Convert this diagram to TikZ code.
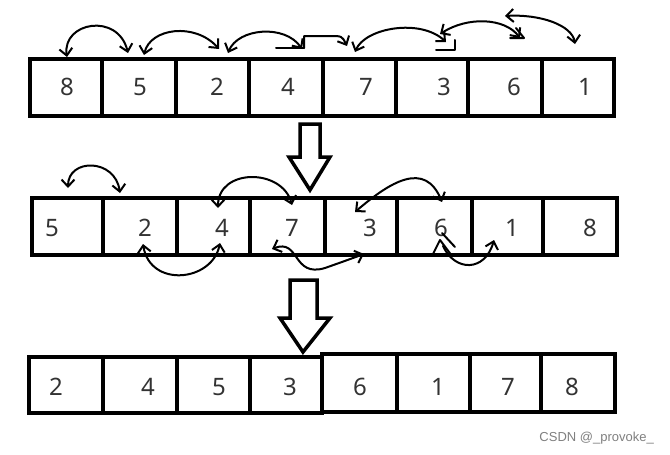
\documentclass[tikz,border=0pt]{standalone}
\usepackage{fontspec}
\setmainfont{Noto Sans}
\newfontfamily\wmfont{Liberation Sans}
\usetikzlibrary{arrows.meta}
\begin{document}
\begin{tikzpicture}[x=1pt,y=-1pt,
  cellbox/.style={draw, line width=4pt, inner sep=0pt},
  num/.style={font=\fontsize{24}{28}\selectfont, text=black!80, inner sep=0pt},
  bigarrow/.style={draw, line width=3.5pt, line join=miter, fill=white},
  hand/.style={line width=2pt, line cap=round, line join=round},
  swap/.style={hand, {Straight Barb[length=7pt,width=13pt]}-{Straight Barb[length=7pt,width=13pt]}},
  oneway/.style={hand, -{Straight Barb[length=7pt,width=13pt]}},
  wm/.style={font=\wmfont\fontsize{13}{15}\selectfont, text=black!50, inner sep=0pt}]
\useasboundingbox (0,0) rectangle (670,455);
\fill[white] (0,0) rectangle (670,455);

% row 1
\foreach \a/\b/\i in {30/102/1,102/176/2,176/249/3,249/323/4,323/396/5,396/468/6,468/542/7,542/614/8}
  \node[cellbox, minimum width={(\b-\a)*1pt}, minimum height=57pt] (ra\i) at ({(\a+\b)/2},87.5) {};
% row 2
\foreach \a/\b/\i in {32/103/1,103/177/2,177/250/3,250/325/4,325/397/5,397/472/6,472/543/7,543/617/8}
  \node[cellbox, minimum width={(\b-\a)*1pt}, minimum height=57pt] (rb\i) at ({(\a+\b)/2},226) {};
% row 3
\foreach \a/\b/\i in {29/103/1,103/177/2,177/250/3,250/322/4}
  \node[cellbox, minimum width={(\b-\a)*1pt}, minimum height=56pt] (rc\i) at ({(\a+\b)/2},384.5) {};
\foreach \a/\b/\i in {322/397/5,397/470/6,470/541/7,541/615/8}
  \node[cellbox, minimum width={(\b-\a)*1pt}, minimum height=58pt] (rc\i) at ({(\a+\b)/2},383) {};

% numbers
\foreach \x/\t/\i in {67/8/1,140/5/2,217/2/3,288/4/4,366/7/5,444/3/6,514/6/7,585/1/8}
  \node[num] (na\i) at (\x,87) {\t};
\foreach \x/\t/\i in {52/5/1,145/2/2,222/4/3,292/7/4,370/3/5,441/6/6,512/1/7,590/8/8}
  \node[num] (nb\i) at (\x,228) {\t};
\foreach \x/\t/\i in {56/2/1,148/4/2,219/5/3,290/3/4,360/6/5,438/1/6,508/7/7,572/8/8}
  \node[num] (nc\i) at (\x,387) {\t};

% block arrows
\path[bigarrow] (300,124) -- (320,124) -- (320,157) -- (330,157) -- (310,190) -- (289,157) -- (300,157) -- cycle;
\path[bigarrow] (290,280) -- (317,280) -- (317,318) -- (330,318) -- (303,352) -- (280,318) -- (290,318) -- cycle;

% hand-drawn swaps, row 1
\coordinate (a1s) at (67,57);  \coordinate (a1e) at (128,53);
\draw[swap] (a1s) .. controls (62,22) and (118,12) .. (a1e);
\coordinate (a2s) at (144,55); \coordinate (a2e) at (219,49);
\draw[swap] (a2s) .. controls (150,28) and (195,22) .. (a2e);
\coordinate (a3s) at (228,53); \coordinate (a3e) at (302,49);
\draw[swap] (a3s) .. controls (238,28) and (285,24) .. (a3e);
\coordinate (a4s) at (276,48); \coordinate (a4e) at (347,46);
\draw[hand] (a4s) -- (304,48);
\draw[oneway] (304,48) -- (304,36) -- (330,36) .. controls (342,36) .. (a4e);
\coordinate (a5s) at (355,52); \coordinate (a5e) at (446,42);
\draw[swap] (a5s) .. controls (365,28) and (420,18) .. (a5e);
\draw[hand] (436,50) -- (455,50) -- (455,40);
\coordinate (a6s) at (440,34); \coordinate (a6e) at (520,38);
\draw[swap] (a6s) .. controls (468,16) and (505,18) .. (a6e);
\draw[hand] (510,38) -- (524,38) -- (516,28);
\coordinate (a7s) at (505,16); \coordinate (a7e) at (575,44);
\draw[swap] (a7s) .. controls (540,14) and (572,25) .. (a7e);

% hand-drawn swaps, row 2 (above)
\coordinate (b1s) at (68,188); \coordinate (b1e) at (120,193);
\draw[swap] (b1s) .. controls (68,158) and (115,158) .. (b1e);
\coordinate (b2s) at (218,208); \coordinate (b2e) at (292,205);
\draw[swap] (b2s) .. controls (218,168) and (282,168) .. (b2e);
\coordinate (b3s) at (355,212); \coordinate (b3e) at (442,202);
\draw[swap] (b3s) .. controls (390,182) and (425,160) .. (b3e);
% row 2 (below)
\coordinate (b4s) at (143,244); \coordinate (b4e) at (220,243);
\draw[swap] (b4s) .. controls (150,288) and (212,282) .. (b4e);
\coordinate (b5s) at (272,249); \coordinate (b5e) at (364,254);
\draw[swap] (b5s) .. controls (300,238) and (292,278) .. (325,268) .. controls (342,262) .. (b5e);
\coordinate (b6s) at (432,256); \coordinate (b6e) at (494,240);
\draw[hand] (b6s) -- (440,240) -- (452,256);
\draw[oneway] (443,246) .. controls (455,272) and (485,272) .. (b6e);
\draw[hand] (442,233) -- (455,247);

% watermark
\node[wm, anchor=east] (wmk) at (654,438) {CSDN @\_provoke\_};
\end{tikzpicture}
\end{document}
